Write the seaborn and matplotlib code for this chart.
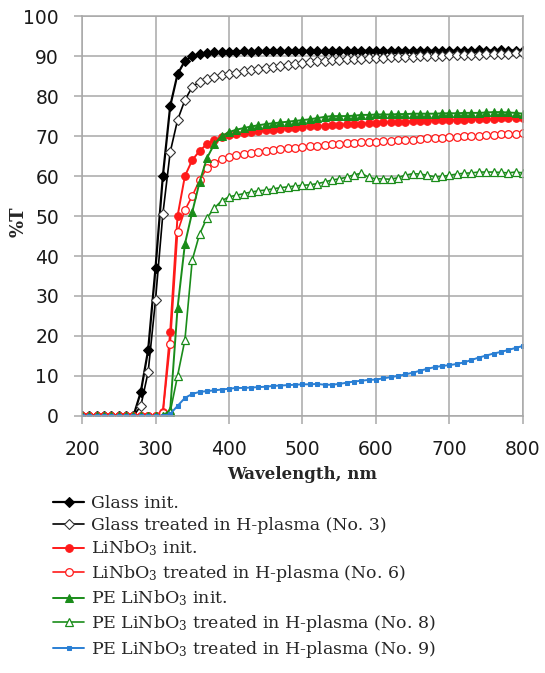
import matplotlib
matplotlib.use("Agg")
import matplotlib.pyplot as plt
import seaborn as sns

sns.set_theme(style="whitegrid")
plt.rcParams["font.family"] = ["DejaVu Sans"]
plt.rcParams["mathtext.fontset"] = "dejavuserif"

# ── data (10 nm steps) ───────────────────────────────────────────────────────
wavelength = list(range(200, 810, 10))

glass_init = [0] * 8 + [
    6, 16.5, 37, 60, 77.5, 85.5, 88.8, 90, 90.5, 90.8, 91, 91, 91.1,
    91.1, 91.2, 91.1, 91.2, 91.2, 91.3, 91.2, 91.3, 91.2, 91.3,
    91.3, 91.2, 91.3, 91.3, 91.4, 91.3, 91.3, 91.4, 91.3, 91.3,
    91.4, 91.3, 91.4, 91.4, 91.3, 91.4, 91.4, 91.3, 91.4, 91.4,
    91.3, 91.4, 91.4, 91.5, 91.4, 91.4, 91.5, 91.4, 91.4, 91.3]

glass_h = [0] * 8 + [
    2.5, 11, 29, 50.5, 66, 74, 79, 82.3, 83.6, 84.3, 84.9, 85.3, 85.6,
    85.9, 86.2, 86.5, 86.8, 87.1, 87.4, 87.6, 87.9, 88.1, 88.3,
    88.5, 88.7, 88.8, 89.0, 89.1, 89.2, 89.3, 89.4, 89.5, 89.6,
    89.6, 89.7, 89.8, 89.8, 89.9, 90.0, 90.0, 90.1, 90.1, 90.2,
    90.2, 90.3, 90.3, 90.4, 90.5, 90.5, 90.6, 90.6, 90.7, 90.8]

ln_init = [0] * 11 + [
    1, 21, 50, 60, 64, 66.3, 68, 69, 69.7, 70.2,
    70.5, 70.8, 71.0, 71.2, 71.4, 71.6, 71.8, 72.0, 72.1, 72.3,
    72.4, 72.5, 72.6, 72.7, 72.8, 72.9, 73.0, 73.1, 73.2, 73.3,
    73.4, 73.5, 73.5, 73.6, 73.7, 73.8, 73.8, 73.9, 74.0, 74.0,
    74.1, 74.1, 74.2, 74.2, 74.3, 74.3, 74.4, 74.4, 74.4, 74.5]

ln_h = [0] * 11 + [
    0.8, 18, 46, 51.5, 55, 59, 62, 63.3, 64.2, 64.8,
    65.2, 65.5, 65.8, 66.0, 66.3, 66.5, 66.7, 66.9, 67.1, 67.3,
    67.5, 67.6, 67.8, 67.9, 68.0, 68.2, 68.3, 68.4, 68.5, 68.6,
    68.7, 68.8, 68.9, 69.0, 69.1, 69.2, 69.4, 69.5, 69.6, 69.7,
    69.8, 69.9, 70.0, 70.1, 70.2, 70.3, 70.4, 70.5, 70.6, 70.8]

pe_init = [0] * 12 + [
    1.5, 27, 43, 51, 58.5, 64.5, 68, 70, 71,
    71.6, 72.0, 72.4, 72.7, 73.0, 73.2, 73.4, 73.6, 73.8, 74.0,
    74.2, 74.5, 74.8, 75.0, 75.0, 75.0, 75.1, 75.3, 75.3, 75.4,
    75.4, 75.4, 75.5, 75.5, 75.6, 75.6, 75.6, 75.6, 75.7, 75.7,
    75.7, 75.8, 75.8, 75.8, 75.9, 76.0, 76.0, 75.9, 75.8, 75.6]

pe_h8 = [0] * 12 + [
    1, 10, 19, 39, 45.5, 49.5, 52, 53.8, 54.8,
    55.2, 55.6, 56.0, 56.3, 56.5, 56.8, 57.1, 57.3, 57.5, 57.7,
    57.8, 58.1, 58.5, 59.0, 59.3, 59.7, 60.3, 60.7, 59.7, 59.3,
    59.3, 59.2, 59.6, 60.2, 60.6, 60.5, 60.2, 59.8, 59.9, 60.2,
    60.5, 60.7, 60.8, 61.0, 61.0, 61.0, 60.9, 60.8, 61.0, 60.8]

pe_h9 = [0] * 12 + [
    0.5, 2.5, 4.5, 5.5, 6.0, 6.2, 6.4, 6.6, 6.8,
    7.0, 7.0, 7.1, 7.2, 7.3, 7.5, 7.6, 7.7, 7.8, 7.9,
    7.9, 8.0, 7.8, 7.8, 8.0, 8.3, 8.6, 8.8, 9.0, 9.1,
    9.4, 9.7, 10.0, 10.4, 10.8, 11.3, 11.8, 12.2, 12.5, 12.7,
    13.0, 13.4, 14.0, 14.6, 15.1, 15.6, 16.0, 16.5, 17.0, 17.5]

labels = [
    "Glass init.",
    "Glass treated in H-plasma (No. 3)",
    "LiNbO$_3$ init.",
    "LiNbO$_3$ treated in H-plasma (No. 6)",
    "PE LiNbO$_3$ init.",
    "PE LiNbO$_3$ treated in H-plasma (No. 8)",
    "PE LiNbO$_3$ treated in H-plasma (No. 9)",
]

RED = "#ff1a1a"
GREEN = "#1a8c1a"
BLUE = "#2a7fd4"
GRID = "#a8a8a8"

styles = [
    (glass_init, dict(color="black", marker="D", ms=5, mfc="black", mec="black", lw=1.6)),
    (glass_h,    dict(color="black", marker="D", ms=5, mfc="white", mec="#333333", mew=0.8, lw=1.2)),
    (ln_init,    dict(color=RED, marker="o", ms=5.5, mfc=RED, mec=RED, lw=1.4)),
    (ln_h,       dict(color=RED, marker="o", ms=5.5, mfc="white", mec=RED, mew=0.9, lw=1.2)),
    (pe_init,    dict(color=GREEN, marker="^", ms=6, mfc=GREEN, mec=GREEN, lw=1.4)),
    (pe_h8,      dict(color=GREEN, marker="^", ms=6, mfc="white", mec=GREEN, mew=0.9, lw=1.2)),
    (pe_h9,      dict(color=BLUE, marker="s", ms=3.5, mfc=BLUE, mec=BLUE, lw=1.4)),
]

fig = plt.figure(figsize=(5.45, 6.73), dpi=100)
ax = fig.add_axes([0.1505, 0.382, 0.809, 0.594])

for (vals, kw), lab in zip(styles, labels):
    sns.lineplot(x=wavelength, y=vals, ax=ax, label=lab, **kw)

ax.set_xlim(200, 800)
ax.set_ylim(0, 100)
ax.set_xticks(range(200, 801, 100))
ax.set_yticks(range(0, 101, 10))
ax.grid(True, color=GRID, lw=1.1)
for sp in ax.spines.values():
    sp.set_color(GRID)
    sp.set_linewidth(1.1)
ax.tick_params(axis="both", which="major", length=5.5, width=1.1, color=GRID,
               labelsize=13.5, labelcolor="#1a1a1a", left=True, bottom=True)
ax.tick_params(axis="x", pad=12)
ax.tick_params(axis="y", pad=11)

ax.set_xlabel("Wavelength, nm", family="DejaVu Serif", weight="bold",
              fontsize=12, labelpad=5)
ax.set_ylabel("%T", family="DejaVu Serif", weight="bold", fontsize=13)
ax.yaxis.set_label_coords(-0.124, 0.485)

handles, labs = ax.get_legend_handles_labels()
ax.get_legend().remove()
fig.legend(handles, labs, loc="upper left", bbox_to_anchor=(0.098, 0.264),
           frameon=False, prop={"family": "DejaVu Serif", "size": 12.5},
           handlelength=1.75, handletextpad=0.4, labelspacing=0.27,
           borderpad=0, borderaxespad=0, numpoints=1)

fig.savefig("out.png", dpi=100)
